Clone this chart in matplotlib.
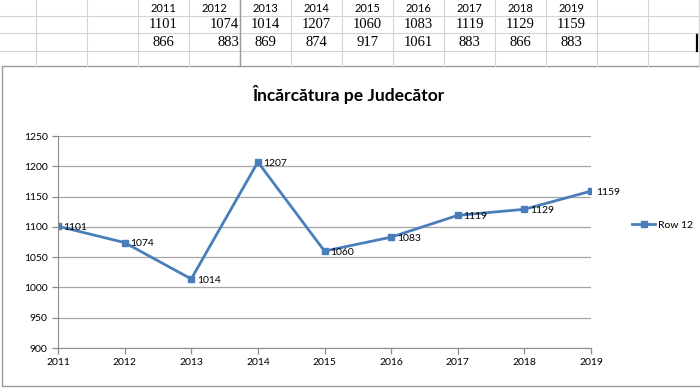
import matplotlib.pyplot as plt
from matplotlib.patches import Rectangle

years = [2011, 2012, 2013, 2014, 2015, 2016, 2017, 2018, 2019]
row_12 = [1101, 1074, 1014, 1207, 1060, 1083, 1119, 1129, 1159]
row_13 = [866, 883, 869, 874, 917, 1061, 883, 866, 883]
y_ticks = [900, 950, 1000, 1050, 1100, 1150, 1200, 1250]

title = "Încărcătura pe Judecător"
series_name = "Row 12"
blue = "#4a7ebb"
grid_gray = "#d4d4d4"
sans = ["Lato", "DejaVu Sans"]
serif = ["Liberation Serif", "DejaVu Serif"]

W, H = 700, 388
fig = plt.figure(figsize=(W / 100, H / 100), dpi=100)

# spreadsheet background in pixel coordinates
bg = fig.add_axes([0, 0, 1, 1])
bg.set_xlim(0, W)
bg.set_ylim(H, 0)
bg.axis("off")

col_w = 51
first_col = 138
for x in range(36, W + 1, col_w):
  bg.plot([x, x], [0, 66], color=grid_gray, lw=0.8)
for y in [16, 33, 51]:
  bg.plot([0, W], [y, y], color=grid_gray, lw=0.8)
bg.plot([240, 240], [0, 66], color="#9a9a9a", lw=1.0)
bg.plot([697, 697], [35, 51], color="black", lw=1.6)

for i, yr in enumerate(years):
  left = first_col + col_w * i
  cx = left + col_w / 2
  bg.text(cx, 9, str(yr), ha="center", va="center", fontsize=8,
          family=sans)
  if yr == 2012:
    bg.text(left + col_w - 1, 25, str(row_12[i]), ha="right", va="center",
            fontsize=10.5, family=serif)
    bg.text(left + col_w - 1, 42, str(row_13[i]), ha="right", va="center",
            fontsize=10.5, family=serif)
  else:
    bg.text(cx, 25, str(row_12[i]), ha="center", va="center", fontsize=10.5,
            family=serif)
    bg.text(cx, 42, str(row_13[i]), ha="center", va="center", fontsize=10.5,
            family=serif)

# chart frame
bg.add_patch(Rectangle((2, 66), 710, 320, facecolor="white",
                       edgecolor="#9a9a9a", lw=1.0))
bg.text(349, 95, title, ha="center", va="center", fontsize=12.5,
        fontweight="bold", family=sans)

# plot area
x0, x1, ytop, ybot = 58, 591, 136, 348
ax = fig.add_axes([x0 / W, (H - ybot) / H, (x1 - x0) / W, (ybot - ytop) / H])
ax.plot(years, row_12, color=blue, lw=2, marker="s", markersize=5,
        label=series_name)
for x, v in zip(years, row_12):
  ax.annotate(str(v), (x, v), xytext=(4, -1), textcoords="offset points",
              ha="left", va="center", fontsize=7.5, family=sans)

ax.set_xlim(years[0], years[-1])
ax.set_ylim(y_ticks[0], y_ticks[-1])
ax.set_xticks(years)
ax.set_yticks(y_ticks)
ax.grid(axis="y", color="#a6a6a6", lw=0.9)
ax.set_axisbelow(True)
for side in ["top", "right"]:
  ax.spines[side].set_visible(False)
for side in ["left", "bottom"]:
  ax.spines[side].set_color("#8c8c8c")
ax.tick_params(colors="#8c8c8c", length=4, width=0.9, labelcolor="black",
               labelsize=7.5)
for lbl in ax.get_xticklabels() + ax.get_yticklabels():
  lbl.set_family(sans)

ax.legend(loc="center left", bbox_to_anchor=(1.06, 0.58), frameon=False,
          prop={"family": sans, "size": 7.5}, handlelength=2.2,
          handletextpad=0.3)

fig.savefig("out.png", dpi=100)
